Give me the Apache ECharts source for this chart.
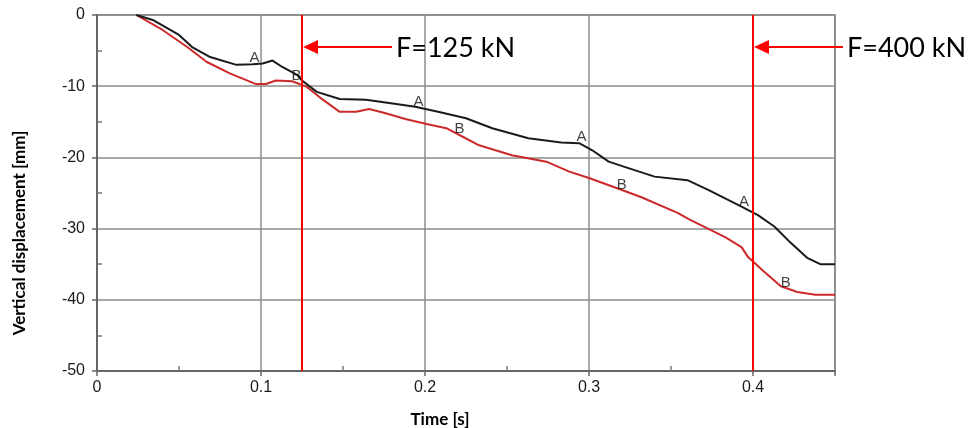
<!DOCTYPE html>
<html>
<head>
<meta charset="utf-8">
<script src="https://cdn.jsdelivr.net/npm/echarts@6/dist/echarts.min.js"></script>
<style>
  html, body { margin: 0; padding: 0; background: #fff; }
  #chart { width: 969px; height: 428px; }
</style>
</head>
<body>
<div id="chart"></div>
<script>
// curve A (black)
const timeA = [0.024, 0.034, 0.050, 0.058, 0.069, 0.085, 0.095, 0.101, 0.107, 0.113, 0.122, 0.125,
  0.134, 0.148, 0.164, 0.176, 0.194, 0.208, 0.225, 0.241, 0.263, 0.283, 0.294, 0.302, 0.312,
  0.324, 0.340, 0.360, 0.373, 0.393, 0.403, 0.413, 0.423, 0.433, 0.441, 0.45];
const dispA = [0, -0.7, -2.8, -4.5, -5.9, -7.0, -6.9, -6.8, -6.4, -7.3, -8.4, -9.2,
  -10.8, -11.8, -11.9, -12.3, -12.9, -13.6, -14.5, -15.9, -17.3, -17.9, -18.0, -19.0, -20.6,
  -21.5, -22.7, -23.2, -24.6, -26.9, -28.1, -29.7, -32.0, -34.1, -35.0, -35.0];

// curve B (red)
const timeB = [0.024, 0.040, 0.055, 0.067, 0.081, 0.097, 0.103, 0.109, 0.119, 0.128, 0.136,
  0.148, 0.158, 0.166, 0.176, 0.188, 0.201, 0.213, 0.223, 0.233, 0.243, 0.253, 0.274, 0.288,
  0.300, 0.318, 0.332, 0.354, 0.362, 0.383, 0.393, 0.397, 0.407, 0.417, 0.427, 0.438, 0.45];
const dispB = [0, -2.1, -4.5, -6.6, -8.2, -9.7, -9.7, -9.2, -9.3, -10.1, -11.6,
  -13.6, -13.6, -13.2, -13.8, -14.6, -15.3, -15.9, -17.1, -18.3, -19.0, -19.7, -20.6, -22.0,
  -22.9, -24.4, -25.6, -27.8, -28.8, -31.2, -32.6, -34.0, -36.1, -38.1, -38.9, -39.3, -39.3];

// curve letters
const labelATime = [0.096, 0.196, 0.2954, 0.3945];
const labelADisp = [-6.0, -12.2, -17.1, -26.3];
const labelBTime = [0.1216, 0.221, 0.320, 0.420];
const labelBDisp = [-8.6, -16.0, -23.9, -37.6];

// load markers
const forceTimes = [0.125, 0.4];
const forceLabels = ['F=125 kN', 'F=400 kN'];
const arrowDisp = -4.5;

const xTicks = [0, 0.1, 0.2, 0.3, 0.4];
const yTicks = [0, -10, -20, -30, -40, -50];

const pairs = (xs, ys) => xs.map((x, i) => [x, ys[i]]);

const chart = echarts.init(document.getElementById('chart'));

const gridBox = { left: 97, right: 134, top: 15, bottom: 57 };
const gridLine = { show: true, lineStyle: { color: '#8c8c8c', width: 1.5 } };
const letterStyle = { show: true, position: 'inside', color: '#111', fontSize: 15, fontFamily: 'Liberation Sans' };
// second, identical grid only carries the inward minor ticks
const minorAxis = {
  type: 'value', gridIndex: 1,
  axisLine: { show: false, onZero: false },
  axisTick: { show: false, inside: true },
  axisLabel: { show: false },
  minorTick: { show: true, splitNumber: 2, length: 5, lineStyle: { color: '#777', width: 1.5 } },
  splitLine: { show: false }
};

chart.setOption({
  animation: false,
  backgroundColor: '#fff',
  grid: [
    Object.assign({ show: true, borderColor: '#777', borderWidth: 1.5 }, gridBox),
    Object.assign({}, gridBox)
  ],
  xAxis: [
    {
      type: 'value', min: 0, max: 0.45, interval: 0.1,
      axisLine: { onZero: false, lineStyle: { color: '#666', width: 2 } },
      axisTick: { length: 5, lineStyle: { color: '#666', width: 1.5 } },
      axisLabel: {
        margin: 9, color: '#1a1a1a', fontSize: 16, fontFamily: 'Liberation Sans',
        formatter: v => (xTicks.includes(Math.round(v * 10) / 10) ? String(v) : '')
      },
      splitLine: gridLine
    },
    Object.assign({ min: 0, max: 0.45, interval: 0.1, position: 'bottom' }, minorAxis)
  ],
  yAxis: [
    {
      type: 'value', min: -50, max: 0, interval: 10,
      axisLine: { show: true, onZero: false, lineStyle: { color: '#666', width: 2 } },
      axisTick: { show: true, length: 5, lineStyle: { color: '#666', width: 1.5 } },
      axisLabel: {
        margin: 12, color: '#1a1a1a', fontSize: 16, fontFamily: 'Liberation Sans',
        formatter: v => (yTicks.includes(v) ? String(v) : '')
      },
      splitLine: gridLine
    },
    Object.assign({ min: -50, max: 0, interval: 10, position: 'left' }, minorAxis)
  ],
  series: [
    {
      name: 'A', type: 'line', data: pairs(timeA, dispA),
      showSymbol: false, lineStyle: { color: '#1a1a1a', width: 2 }, z: 3
    },
    {
      name: 'B', type: 'line', data: pairs(timeB, dispB),
      showSymbol: false, lineStyle: { color: '#cc2a2a', width: 2 }, z: 2
    },
    {
      type: 'scatter', symbolSize: 0, data: pairs(labelATime, labelADisp),
      label: Object.assign({ formatter: 'A' }, letterStyle), z: 4
    },
    {
      type: 'scatter', symbolSize: 0, data: pairs(labelBTime, labelBDisp),
      label: Object.assign({ formatter: 'B' }, letterStyle), z: 4
    },
    {
      type: 'line', xAxisIndex: 1, yAxisIndex: 1, data: [], silent: true
    }
  ].concat(forceTimes.map(t => ({
    type: 'line', data: [[t, 0], [t, -50]], showSymbol: false, silent: true,
    lineStyle: { color: '#ff0000', width: 2 }, z: 5
  })))
});

// arrows with load labels, placed through the axes
const graphics = [];
forceTimes.forEach((t, i) => {
  const tip = chart.convertToPixel({ xAxisIndex: 0, yAxisIndex: 0 }, [t, arrowDisp]);
  const x0 = tip[0] + 1, y0 = tip[1];
  graphics.push({
    type: 'line', shape: { x1: x0 + 12, y1: y0, x2: x0 + 89, y2: y0 },
    style: { stroke: '#ff0000', lineWidth: 2 }, z: 10
  });
  graphics.push({
    type: 'polygon', shape: { points: [[x0, y0], [x0 + 15, y0 - 7], [x0 + 15, y0 + 7]] },
    style: { fill: '#ff0000' }, z: 10
  });
  graphics.push({
    type: 'text', x: x0 + 93, y: y0 + 1,
    style: { text: forceLabels[i], fill: '#000', font: '27px Lato', verticalAlign: 'middle' }, z: 10
  });
});
graphics.push({
  type: 'text', x: 440, y: 420,
  style: { text: 'Time [s]', fill: '#000', font: 'bold 17px Lato', align: 'center', verticalAlign: 'middle' }
});
graphics.push({
  type: 'text', x: 20, y: 233, rotation: Math.PI / 2,
  style: { text: 'Vertical displacement [mm]', fill: '#000', font: 'bold 17px Lato', align: 'center', verticalAlign: 'middle' }
});
chart.setOption({ graphic: graphics });
</script>
</body>
</html>
